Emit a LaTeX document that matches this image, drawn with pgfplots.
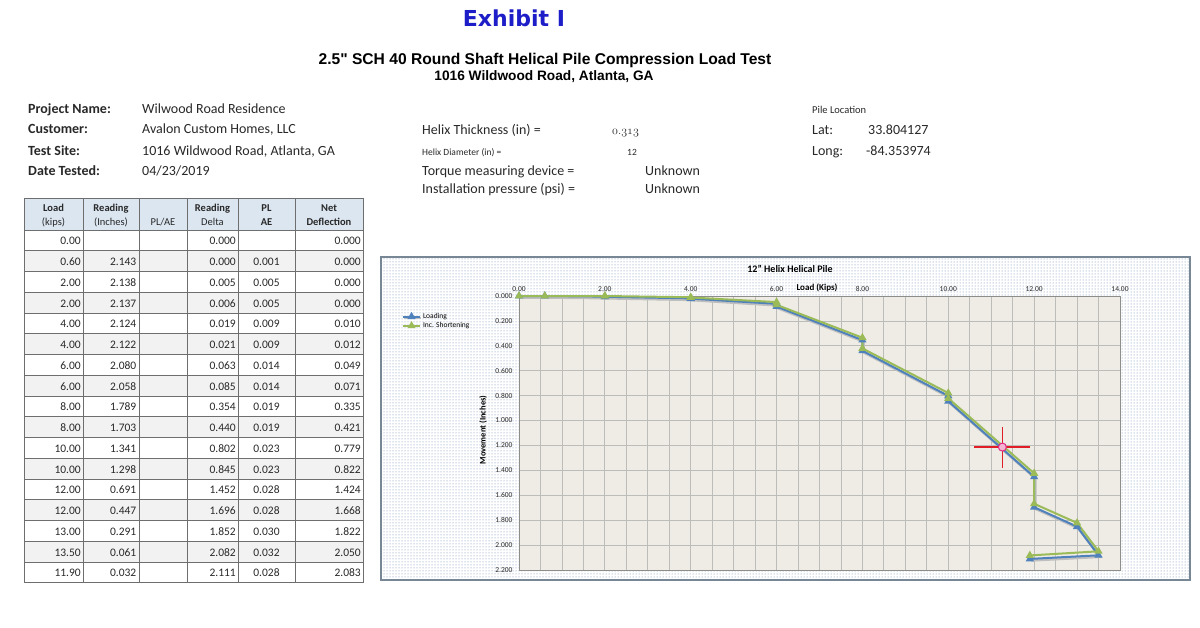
\documentclass[border=0pt]{standalone}
\usepackage{fontspec}
\setmainfont{Carlito}
\newfontfamily\verd{DejaVu Sans}
\newfontfamily\arial{Liberation Sans}
\usepackage{pgfplots}
\pgfplotsset{compat=1.18}
\usetikzlibrary{patterns}

\definecolor{xlblue}{HTML}{4F81BD}
\definecolor{xlgreen}{HTML}{9BBB59}
\definecolor{plotbg}{RGB}{238,236,228}
\definecolor{gridc}{RGB}{188,188,184}
\definecolor{hdrblue}{RGB}{220,230,241}
\definecolor{rowgray}{RGB}{242,242,242}
\definecolor{tline}{RGB}{110,110,110}
\definecolor{txt}{RGB}{40,40,40}
\definecolor{exblue}{RGB}{30,30,200}
\definecolor{boxc}{RGB}{120,135,150}
\definecolor{dotc}{RGB}{105,135,180}
\definecolor{xred}{RGB}{225,30,40}
\definecolor{xpink}{RGB}{225,40,130}

\newcommand{\fs}[1]{\fontsize{#1}{#1}\selectfont}
% old-style figures from the math italic font (slot 58 is the period)
\newcommand{\osf}[1]{{\fontencoding{OML}\fontfamily{cmm}\fontseries{m}\fontshape{it}\selectfont #1}}

\begin{document}
\begin{tikzpicture}[x=1pt,y=-1pt]
\useasboundingbox (0,0) rectangle (1200,628);

% ---- headings
\node[anchor=base, inner sep=0, font=\verd\bfseries\fs{22}, text=exblue] at (514,27) {Exhibit I};
\node[anchor=base, inner sep=0, font=\arial\bfseries\fs{15.6}] at (545,64.5) {2.5" SCH 40 Round Shaft Helical Pile Compression Load Test};
\node[anchor=base, inner sep=0, font=\arial\bfseries\fs{13.7}] at (544,80.5) {1016 Wildwood Road, Atlanta, GA};

% ---- project info
\begin{scope}[every node/.style={anchor=base west, inner sep=0, font=\fs{14}, text=txt}]
\node[font=\bfseries\fs{14}] at (28,114) {Project Name:};
\node[font=\bfseries\fs{14}] at (28,134) {Customer:};
\node[font=\bfseries\fs{14}] at (28,155.5) {Test Site:};
\node[font=\bfseries\fs{14}] at (28,175.5) {Date Tested:};
\node at (142,114) {Wilwood Road Residence};
\node at (142,134) {Avalon Custom Homes, LLC};
\node at (142,155.5) {1016 Wildwood Road, Atlanta, GA};
\node at (142,175.5) {04/23/2019};

\node at (422,135) {Helix Thickness (in) =};
\node[font=\fs{9.5}] at (422,155.5) {Helix Diameter (in) =};
\node at (422,175.5) {Torque measuring device =};
\node at (422,193.5) {Installation pressure (psi) =};
\node[font=\fs{13}] at (612,135) {\osf{0:313}};
\node[font=\fs{9.5}] at (627,155.5) {12};
\node at (645,175.5) {Unknown};
\node at (645,193.5) {Unknown};

\node[font=\fs{10.5}] at (812,114) {Pile Location};
\node at (812,134.5) {Lat:};
\node at (868,134.5) {33.804127};
\node at (812,155.5) {Long:};
\node at (866,155.5) {-84.353974};
\end{scope}

% ---- table
\fill[hdrblue] (24,198) rectangle (363,230);
\foreach \i in {2,4,...,16} \fill[rowgray] (24,{230+(\i-1)*20.75}) rectangle (363,{230+\i*20.75});
\draw[tline, line width=0.8pt] (24,198) -- (363,198);
\foreach \i in {0,...,17} \draw[tline, line width=0.8pt] (24,{230+\i*20.75}) -- (363,{230+\i*20.75});
\foreach \xx in {24,83,139,187,238,295,363} \draw[tline, line width=0.8pt] (\xx,198) -- (\xx,582.75);

\begin{scope}[every node/.style={anchor=base, inner sep=0, font=\fs{10.5}, text=txt}]
\node[font=\bfseries\fs{10.5}] at (53.5,211.5) {Load};
\node at (53.5,225.5) {(kips)};
\node[font=\bfseries\fs{10.5}] at (111,211.5) {Reading};
\node at (111,225.5) {(Inches)};
\node at (163,225.5) {PL/AE};
\node[font=\bfseries\fs{10.5}] at (212.5,211.5) {Reading};
\node at (212.5,225.5) {Delta};
\node[font=\bfseries\fs{10.5}] at (266.5,211.5) {PL};
\node[font=\bfseries\fs{10.5}] at (266.5,225.5) {AE};
\node[font=\bfseries\fs{10.5}] at (329,211.5) {Net};
\node[font=\bfseries\fs{10.5}] at (329,225.5) {Deflection};
\end{scope}

\begin{scope}[every node/.style={inner sep=0, font=\fs{11.5}, text=txt}]
\foreach \a/\b/\c/\d/\e [count=\i] in {
  0.00/{}/0.000/{}/0.000,
  0.60/2.143/0.000/0.001/0.000,
  2.00/2.138/0.005/0.005/0.000,
  2.00/2.137/0.006/0.005/0.000,
  4.00/2.124/0.019/0.009/0.010,
  4.00/2.122/0.021/0.009/0.012,
  6.00/2.080/0.063/0.014/0.049,
  6.00/2.058/0.085/0.014/0.071,
  8.00/1.789/0.354/0.019/0.335,
  8.00/1.703/0.440/0.019/0.421,
  10.00/1.341/0.802/0.023/0.779,
  10.00/1.298/0.845/0.023/0.822,
  12.00/0.691/1.452/0.028/1.424,
  12.00/0.447/1.696/0.028/1.668,
  13.00/0.291/1.852/0.030/1.822,
  13.50/0.061/2.082/0.032/2.050,
  11.90/0.032/2.111/0.028/2.083}{
  \pgfmathsetmacro\yy{230+(\i-1)*20.75+14.8}
  \node[anchor=base east] at (81,\yy) {\a};
  \node[anchor=base east] at (136.5,\yy) {\b};
  \node[anchor=base east] at (236,\yy) {\c};
  \node[anchor=base] at (266.5,\yy) {\d};
  \node[anchor=base east] at (361,\yy) {\e};
}
\end{scope}

% ---- chart frame
\fill[white] (381,257) rectangle (1190,580);
\fill[pattern=dots, pattern color=dotc] (381,257) rectangle (1190,580);
\draw[boxc, line width=1.2pt] (381,257) rectangle (1190,580);

\node[anchor=base, inner sep=0, font=\bfseries\fs{10}] at (790,273) {12" Helix Helical Pile};
\node[anchor=base, inner sep=0, font=\bfseries\fs{9}] at (817,290.5) {Load (Kips)};
\node[rotate=90, inner sep=0, font=\bfseries\fs{8.5}] at (483,430) {Movement (Inches)};

\begin{axis}[
  at={(519pt,-296pt)}, anchor=north west,
  width=601pt, height=274pt, scale only axis,
  xmin=0, xmax=14, ymin=0, ymax=2.2, y dir=reverse,
  xticklabel pos=right,
  xtick={0,2,4,6,8,10,12,14},
  ytick={0,0.2,0.4,0.6,0.8,1,1.2,1.4,1.6,1.8,2,2.2},
  minor x tick num=3,
  xmajorgrids=true, xminorgrids=true, ymajorgrids=true,
  grid style={gridc, line width=0.8pt},
  minor grid style={gridc, line width=0.8pt},
  major tick length=0pt, minor tick length=0pt,
  axis line style={gridc!75!black, line width=0.6pt},
  axis background/.style={fill=plotbg},
  x tick label style={font=\fs{7.5}, text=txt, yshift=1pt, /pgf/number format/.cd, fixed, fixed zerofill, precision=2, assume math mode=true},
  y tick label style={font=\fs{7.5}, text=txt, xshift=-3pt, /pgf/number format/.cd, fixed, fixed zerofill, precision=3, assume math mode=true},
  legend style={at={(-0.195,0.945)}, anchor=north west, draw=none, fill=none,
    font=\fs{7.5}, row sep=-1.5pt, inner sep=0pt},
  legend cell align=left,
  clip=false,
]
\addplot[xlblue, line width=2pt, mark=triangle*, mark size=2.8pt,
  mark options={solid, fill=xlblue},
  preaction={draw=black!25, line width=2.6pt, transform canvas={shift={(1.2pt,-1.5pt)}}}]
  coordinates {
  (0,0) (0.6,0) (2,0.005) (2,0.006) (4,0.019) (4,0.021) (6,0.063) (6,0.085)
  (8,0.354) (8,0.440) (10,0.802) (10,0.845) (12,1.452) (12,1.696)
  (13,1.852) (13.5,2.082) (11.9,2.111)};
\addlegendentry{Loading}
\addplot[xlgreen, line width=2pt, mark=triangle*, mark size=2.8pt,
  mark options={solid, fill=xlgreen}]
  coordinates {
  (0,0) (0.6,0) (2,0) (2,0) (4,0.010) (4,0.012) (6,0.049) (6,0.071)
  (8,0.335) (8,0.421) (10,0.779) (10,0.822) (12,1.424) (12,1.668)
  (13,1.822) (13.5,2.050) (11.9,2.083)};
\addlegendentry{Inc. Shortening}
% crosshair
\addplot[forget plot, only marks, mark=-, mark size=28pt, xred, line width=1.2pt] coordinates {(11.26,1.213)};
\addplot[forget plot, only marks, mark=|, mark size=20.5pt, xred, line width=1.2pt] coordinates {(11.26,1.213)};
\addplot[forget plot, only marks, mark=*, mark size=4pt, mark options={draw=xpink, fill=xpink!35, line width=1pt}] coordinates {(11.26,1.213)};
\end{axis}
\end{tikzpicture}
\end{document}
